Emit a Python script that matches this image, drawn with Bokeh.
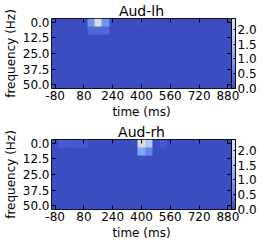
import numpy as np
from bokeh.plotting import figure
from bokeh.models import (Range1d, FixedTicker, NumeralTickFormatter, LinearAxis,
                          ColorBar, LinearColorMapper)
from bokeh.layouts import column
from bokeh.embed import file_html
from bokeh.resources import INLINE

# ---- data -------------------------------------------------------------
times = [-80, -40, 0, 40, 80, 120, 160, 200, 240, 280, 320, 360, 400,
         440, 480, 520, 560, 600, 640, 680, 720, 760, 800, 840, 880]
freqs = [0.0, 6.25, 12.5, 18.75, 25.0, 31.25, 37.5, 43.75, 50.0]

lh_power = [
    [0.01, 0.01, 0.01, 0.01, 0.01, 0.80, 2.30, 0.80, 0.01, 0.01, 0.01, 0.01, 0.06, 0.01, 0.01, 0.01, 0.01, 0.01, 0.01, 0.01, 0.01, 0.01, 0.01, 0.01, 0.01],
    [0.01, 0.01, 0.01, 0.01, 0.01, 0.30, 0.30, 0.30, 0.01, 0.01, 0.01, 0.01, 0.01, 0.01, 0.01, 0.01, 0.01, 0.01, 0.01, 0.01, 0.01, 0.01, 0.01, 0.01, 0.01],
    [0.01, 0.01, 0.01, 0.01, 0.01, 0.01, 0.01, 0.01, 0.01, 0.01, 0.01, 0.01, 0.01, 0.01, 0.01, 0.01, 0.01, 0.01, 0.01, 0.01, 0.01, 0.01, 0.01, 0.01, 0.01],
    [0.01, 0.01, 0.01, 0.01, 0.01, 0.01, 0.01, 0.01, 0.01, 0.01, 0.01, 0.01, 0.01, 0.01, 0.01, 0.01, 0.01, 0.01, 0.01, 0.01, 0.01, 0.01, 0.01, 0.01, 0.01],
    [0.01, 0.01, 0.01, 0.01, 0.01, 0.01, 0.01, 0.01, 0.01, 0.01, 0.01, 0.01, 0.01, 0.01, 0.01, 0.01, 0.01, 0.01, 0.01, 0.01, 0.01, 0.01, 0.01, 0.01, 0.01],
    [0.01, 0.01, 0.01, 0.01, 0.01, 0.01, 0.01, 0.01, 0.01, 0.01, 0.01, 0.01, 0.01, 0.01, 0.01, 0.01, 0.01, 0.01, 0.01, 0.01, 0.01, 0.01, 0.01, 0.01, 0.01],
    [0.01, 0.01, 0.01, 0.01, 0.01, 0.01, 0.01, 0.01, 0.01, 0.01, 0.01, 0.01, 0.01, 0.01, 0.01, 0.01, 0.01, 0.01, 0.01, 0.01, 0.01, 0.01, 0.01, 0.01, 0.01],
    [0.01, 0.01, 0.01, 0.01, 0.01, 0.01, 0.01, 0.01, 0.01, 0.01, 0.01, 0.01, 0.01, 0.01, 0.01, 0.01, 0.01, 0.01, 0.01, 0.01, 0.01, 0.01, 0.01, 0.01, 0.01],
    [0.01, 0.01, 0.01, 0.01, 0.01, 0.01, 0.01, 0.01, 0.01, 0.01, 0.01, 0.01, 0.01, 0.01, 0.01, 0.01, 0.01, 0.01, 0.01, 0.01, 0.01, 0.01, 0.01, 0.01, 0.01],
]

rh_power = [
    [0.01, 0.18, 0.15, 0.15, 0.15, 0.01, 0.01, 0.01, 0.01, 0.01, 0.01, 0.01, 2.30, 1.60, 0.01, 0.15, 0.01, 0.01, 0.01, 0.01, 0.01, 0.01, 0.01, 0.01, 0.01],
    [0.01, 0.01, 0.01, 0.01, 0.01, 0.01, 0.01, 0.01, 0.01, 0.01, 0.01, 0.01, 1.05, 0.62, 0.01, 0.01, 0.01, 0.01, 0.01, 0.01, 0.01, 0.01, 0.01, 0.01, 0.01],
    [0.01, 0.01, 0.01, 0.01, 0.01, 0.01, 0.01, 0.01, 0.01, 0.01, 0.01, 0.01, 0.01, 0.01, 0.01, 0.01, 0.01, 0.01, 0.01, 0.01, 0.01, 0.01, 0.01, 0.01, 0.01],
    [0.01, 0.01, 0.01, 0.01, 0.01, 0.01, 0.01, 0.01, 0.01, 0.01, 0.01, 0.01, 0.01, 0.01, 0.01, 0.01, 0.01, 0.01, 0.01, 0.01, 0.01, 0.01, 0.01, 0.01, 0.01],
    [0.01, 0.01, 0.01, 0.01, 0.01, 0.01, 0.01, 0.01, 0.01, 0.01, 0.01, 0.01, 0.01, 0.01, 0.01, 0.01, 0.01, 0.01, 0.01, 0.01, 0.01, 0.01, 0.01, 0.01, 0.01],
    [0.01, 0.01, 0.01, 0.01, 0.01, 0.01, 0.01, 0.01, 0.01, 0.01, 0.01, 0.01, 0.01, 0.01, 0.01, 0.01, 0.01, 0.01, 0.01, 0.01, 0.01, 0.01, 0.01, 0.01, 0.01],
    [0.01, 0.01, 0.01, 0.01, 0.01, 0.01, 0.01, 0.01, 0.01, 0.01, 0.01, 0.01, 0.01, 0.01, 0.01, 0.01, 0.01, 0.01, 0.01, 0.01, 0.01, 0.01, 0.01, 0.01, 0.01],
    [0.01, 0.01, 0.01, 0.01, 0.01, 0.01, 0.01, 0.01, 0.01, 0.01, 0.01, 0.01, 0.01, 0.01, 0.01, 0.01, 0.01, 0.01, 0.01, 0.01, 0.01, 0.01, 0.01, 0.01, 0.01],
    [0.01, 0.01, 0.01, 0.01, 0.01, 0.01, 0.01, 0.01, 0.01, 0.01, 0.01, 0.01, 0.01, 0.01, 0.01, 0.01, 0.01, 0.01, 0.01, 0.01, 0.01, 0.01, 0.01, 0.01, 0.01],
]

titles = ["Aud-lh", "Aud-rh"]
x_ticks = [-80, 80, 240, 400, 560, 720, 880]
y_ticks = [0.0, 12.5, 25.0, 37.5, 50.0]
cbar_ticks = [0.0, 0.5, 1.0, 1.5, 2.0]
vmax = 2.37

# ---- palette (lower half of a cool-warm map) -------------------------
anchors = [(59, 76, 192), (68, 90, 204), (77, 104, 215), (87, 117, 225),
           (98, 130, 234), (108, 142, 241), (119, 154, 247), (130, 165, 251),
           (141, 176, 254), (152, 185, 255), (163, 194, 255), (174, 201, 253),
           (184, 208, 249), (194, 213, 244), (204, 217, 238), (213, 219, 230),
           (221, 221, 221)]
palette = []
n = 256
for i in range(n):
    pos = i / (n - 1) * (len(anchors) - 1)
    j = min(int(pos), len(anchors) - 2)
    f = pos - j
    c = [round(anchors[j][k] + (anchors[j + 1][k] - anchors[j][k]) * f) for k in range(3)]
    palette.append("#%02x%02x%02x" % tuple(c))

FONT = "DejaVu Sans"


def make_fig(title, power):
    dt = times[1] - times[0]
    df = freqs[1] - freqs[0]
    x0, x1 = times[0] - dt / 2, times[-1] + dt / 2
    y0, y1 = freqs[0] - df / 2, freqs[-1] + df / 2
    mapper = LinearColorMapper(palette=palette, low=0, high=vmax)

    p = figure(frame_width=180, frame_height=70,
               x_range=Range1d(x0, x1), y_range=Range1d(y1, y0),
               output_backend="svg", toolbar_location=None, title=title,
               min_border_left=0, min_border_right=0,
               min_border_top=0, min_border_bottom=0,
               background_fill_color="white", border_fill_color="white")
    p.image(image=[np.array(power)], x=x0, y=y0, dw=x1 - x0, dh=y1 - y0,
            color_mapper=mapper)

    p.title.text_font = FONT
    p.title.text_font_size = "14px"
    p.title.text_font_style = "normal"
    p.title.align = "center"
    p.title.standoff = 0
    p.title.text_color = "black"

    p.grid.visible = False
    p.outline_line_color = "black"
    p.outline_line_width = 1

    for ax, lab in ((p.xaxis[0], "time (ms)"), (p.yaxis[0], "frequency (Hz)")):
        ax.axis_label = lab
        ax.axis_label_text_font = FONT
        ax.axis_label_text_font_size = "12px"
        ax.axis_label_text_font_style = "normal"
        ax.axis_label_text_color = "black"
        ax.major_label_text_font = FONT
        ax.major_label_text_font_size = "12px"
        ax.major_label_text_color = "black"
        ax.major_tick_in = 4
        ax.major_tick_out = 0
        ax.minor_tick_in = 0
        ax.minor_tick_out = 0
        ax.major_tick_line_color = "black"
        ax.axis_line_color = None
        ax.major_label_standoff = 2
        ax.axis_label_standoff = 2
    p.xaxis[0].ticker = FixedTicker(ticks=x_ticks)
    p.xaxis[0].formatter = NumeralTickFormatter(format="0")
    p.yaxis[0].ticker = FixedTicker(ticks=y_ticks)
    p.yaxis[0].formatter = NumeralTickFormatter(format="0.0")

    top = LinearAxis(ticker=FixedTicker(ticks=x_ticks),
                     major_label_overrides={t: "" for t in x_ticks},
                     major_tick_in=4, major_tick_out=0, minor_tick_in=0, minor_tick_out=0,
                     axis_line_color=None, major_label_standoff=0,
                     major_tick_line_color="black")
    right = LinearAxis(ticker=FixedTicker(ticks=y_ticks),
                       major_label_overrides={t: "" for t in y_ticks},
                       major_tick_in=4, major_tick_out=0, minor_tick_in=0, minor_tick_out=0,
                       axis_line_color=None, major_label_standoff=0,
                       major_tick_line_color="black")
    p.add_layout(top, "above")
    p.add_layout(right, "right")

    cb = ColorBar(color_mapper=mapper, ticker=FixedTicker(ticks=cbar_ticks),
                  formatter=NumeralTickFormatter(format="0.0"),
                  width=4, height=70, padding=0, margin=12,
                  major_label_text_font=FONT, major_label_text_font_size="12px",
                  major_label_text_color="black",
                  major_tick_line_color="black", major_tick_in=2, major_tick_out=0,
                  bar_line_color="black", bar_line_width=1,
                  label_standoff=2, background_fill_alpha=0,
                  border_line_color=None)
    p.add_layout(cb, "right")
    return p


figs = [make_fig(titles[0], lh_power), make_fig(titles[1], rh_power)]
layout = column(*figs, spacing=0)
open("out.html", "w").write(file_html(layout, INLINE))
